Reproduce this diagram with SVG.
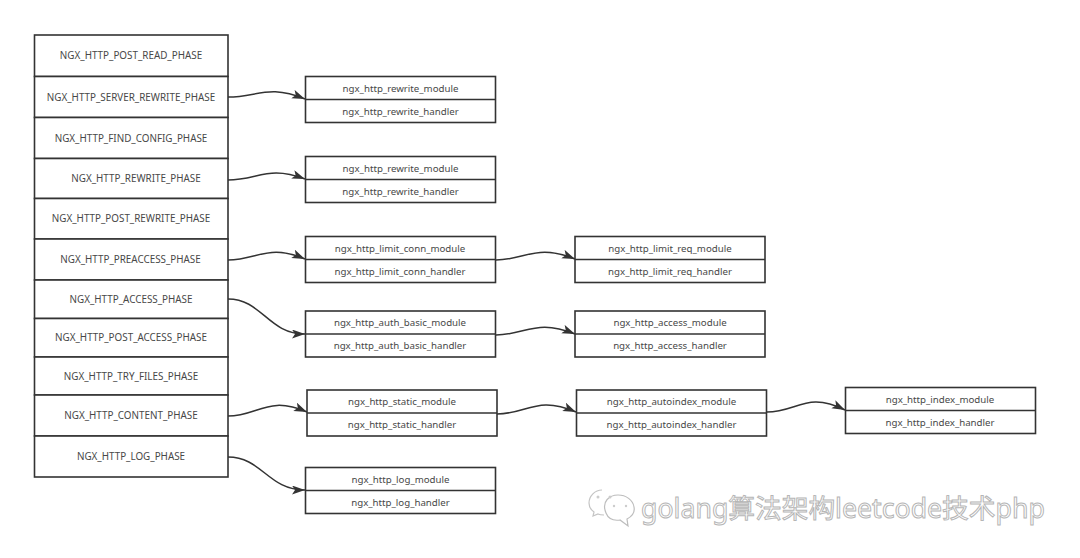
<svg xmlns="http://www.w3.org/2000/svg" width="1080" height="558" viewBox="0 0 1080 558">
<style>
.b{fill:#fff;stroke:#333;stroke-width:1.6}
.l{fill:none;stroke:#333;stroke-width:1.6}
text{font-family:"Noto Sans","Open Sans","Liberation Sans",sans-serif;font-size:9.7px;fill:#484848;text-anchor:middle}
#phases text{font-size:9.85px}
.w{font-family:"Noto Sans","Noto Sans CJK SC",sans-serif;font-size:26.7px;fill:#fff;stroke:#b5b5b5;stroke-width:1;text-anchor:start}
.c{fill:none;stroke:#333;stroke-width:1.5;marker-end:url(#a)}
</style>
<defs><marker id="a" markerUnits="userSpaceOnUse" markerWidth="14" markerHeight="10" refX="13" refY="4.5" orient="auto"><path d="M0 0L13 4.5L0 9L3 4.5Z" fill="#333"/></marker></defs>
<rect width="1080" height="558" fill="#fff"/>
<g id="phases">
<g id="p1"><rect class="b" x="34.5" y="35" width="193.5" height="41.500"/><text x="131" y="59">NGX_HTTP_POST_READ_PHASE</text></g>
<g id="p2"><rect class="b" x="34.5" y="76.500" width="193.500" height="41"/><text x="131" y="101">NGX_HTTP_SERVER_REWRITE_PHASE</text></g>
<g id="p3"><rect class="b" x="34.5" y="117.500" width="193.500" height="41"/><text x="131" y="142">NGX_HTTP_FIND_CONFIG_PHASE</text></g>
<g id="p4"><rect class="b" x="34.5" y="158.500" width="193.500" height="40"/><text x="136" y="182">NGX_HTTP_REWRITE_PHASE</text></g>
<g id="p5"><rect class="b" x="34.5" y="198.500" width="193.500" height="40.500"/><text x="131" y="222">NGX_HTTP_POST_REWRITE_PHASE</text></g>
<g id="p6"><rect class="b" x="34.5" y="239" width="193.500" height="41"/><text x="130.500" y="263">NGX_HTTP_PREACCESS_PHASE</text></g>
<g id="p7"><rect class="b" x="34.5" y="280" width="193.500" height="38.500"/><text x="131" y="303">NGX_HTTP_ACCESS_PHASE</text></g>
<g id="p8"><rect class="b" x="34.5" y="318.500" width="193.500" height="38.500"/><text x="131" y="341">NGX_HTTP_POST_ACCESS_PHASE</text></g>
<g id="p9"><rect class="b" x="34.5" y="357" width="193.500" height="38"/><text x="131" y="380">NGX_HTTP_TRY_FILES_PHASE</text></g>
<g id="p10"><rect class="b" x="34.5" y="395" width="193.500" height="41"/><text x="131" y="419">NGX_HTTP_CONTENT_PHASE</text></g>
<g id="p11"><rect class="b" x="34.5" y="436" width="193.500" height="41"/><text x="131" y="460">NGX_HTTP_LOG_PHASE</text></g>
</g>
<g id="connectors">
<path class="c" d="M228 97C258 97 268 84 305 99"/>
<path class="c" d="M228 180C258 180 268 165 305 179"/>
<path class="c" d="M228 260C258 260 268 243 305 259"/>
<path class="c" d="M228 299C262 299 268 334 305 334"/>
<path class="c" d="M228 416C258 416 268 395 307 412"/>
<path class="c" d="M228 457C262 457 268 490 305 490"/>
<path class="c" d="M496 260C526 260 536 243 575 259"/>
<path class="c" d="M496 335C526 335 536 318 575 334"/>
<path class="c" d="M497 414C527 414 537 395 576 412"/>
<path class="c" d="M767 412C797 412 807 391 845 410"/>
</g>
<g id="m1"><rect class="b" x="305.500" y="76.500" width="190" height="46"/><path class="l" d="M305.500 99.500H495.500"/><text x="400.500" y="92">ngx_http_rewrite_module</text><text x="400.500" y="115">ngx_http_rewrite_handler</text></g>
<g id="m2"><rect class="b" x="305.500" y="156.500" width="190" height="46"/><path class="l" d="M305.500 179.500H495.500"/><text x="400.500" y="172">ngx_http_rewrite_module</text><text x="400.500" y="195">ngx_http_rewrite_handler</text></g>
<g id="m3"><rect class="b" x="305.500" y="236.500" width="190" height="46"/><path class="l" d="M305.500 259.500H495.500"/><text x="400" y="252">ngx_http_limit_conn_module</text><text x="400" y="275">ngx_http_limit_conn_handler</text></g>
<g id="m4"><rect class="b" x="575" y="236.500" width="190" height="46"/><path class="l" d="M575 259.500H765"/><text x="670" y="252">ngx_http_limit_req_module</text><text x="670" y="275">ngx_http_limit_req_handler</text></g>
<g id="m5"><rect class="b" x="305.500" y="311" width="190" height="46"/><path class="l" d="M305.500 334H495.500"/><text x="400" y="326">ngx_http_auth_basic_module</text><text x="400" y="349">ngx_http_auth_basic_handler</text></g>
<g id="m6"><rect class="b" x="575" y="311" width="190" height="46"/><path class="l" d="M575 334H765"/><text x="670" y="326">ngx_http_access_module</text><text x="670" y="349">ngx_http_access_handler</text></g>
<g id="m7"><rect class="b" x="307" y="390" width="190" height="46"/><path class="l" d="M307 413H497"/><text x="402" y="405">ngx_http_static_module</text><text x="402" y="428">ngx_http_static_handler</text></g>
<g id="m8"><rect class="b" x="576.500" y="390" width="190" height="46"/><path class="l" d="M576.500 413H766.500"/><text x="671.500" y="405">ngx_http_autoindex_module</text><text x="671.500" y="428">ngx_http_autoindex_handler</text></g>
<g id="m9"><rect class="b" x="845.500" y="387.500" width="190" height="46"/><path class="l" d="M845.500 410.500H1035.500"/><text x="940" y="403">ngx_http_index_module</text><text x="940" y="426">ngx_http_index_handler</text></g>
<g id="m10"><rect class="b" x="305.500" y="467.500" width="190" height="46"/><path class="l" d="M305.500 490.500H495.500"/><text x="400.500" y="483">ngx_http_log_module</text><text x="400.500" y="506">ngx_http_log_handler</text></g>
<g id="watermark">
<path d="M602 490C595 490 589 496 589 503C589 507 591 510 594 512L593 516L598 514C600 515 602 515 604 515" fill="#fff" stroke="#c4c4c4" stroke-width="1.200"/>
<path d="M618 495C610 495 601 501 606 513C608 518 613 521 620 520L628 526L627 519C633 516 635 512 634 507C633 500 626 495 618 495Z" fill="#fff" stroke="#bdbdbd" stroke-width="1.200"/>
<circle cx="598" cy="497" r="1.500" fill="#ccc"/><circle cx="610" cy="497" r="1.500" fill="#ccc"/><circle cx="614" cy="506" r="1.200" fill="#ccc"/><circle cx="626" cy="506" r="1.200" fill="#ccc"/>
<text class="w" x="641" y="518">golang算法架构leetcode技术php</text>
</g>
</svg>
